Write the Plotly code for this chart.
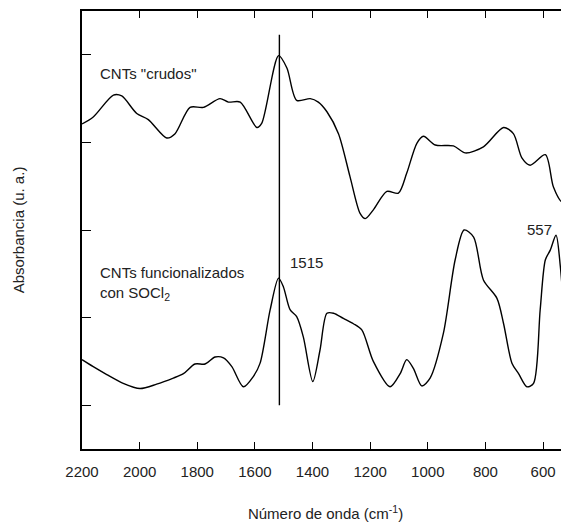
import plotly.graph_objects as go

# Top spectrum: CNTs "crudos"
crudos_x = [2200, 2161, 2091, 2062, 2010, 1970, 1906, 1877, 1825, 1779, 1721, 1692, 1651,
            1593, 1576, 1518, 1489, 1455, 1408, 1380, 1350, 1310, 1270, 1235, 1217, 1189,
            1142, 1102, 1073, 1038, 1015, 974, 911, 870, 807, 737, 703, 673, 645, 592,
            564, 535, 509]
crudos_y = [4.21, 4.29, 4.54, 4.53, 4.33, 4.26, 4.05, 4.10, 4.40, 4.40, 4.50, 4.46, 4.46,
            4.17, 4.22, 4.99, 4.85, 4.48, 4.50, 4.46, 4.35, 4.10, 3.61, 3.19, 3.13, 3.23,
            3.44, 3.42, 3.65, 3.99, 4.07, 3.97, 3.96, 3.88, 3.95, 4.17, 4.10, 3.82, 3.74, 3.86,
            3.49, 3.32, 3.33]

# Bottom spectrum: CNTs funcionalizados con SOCl2
func_x = [2200, 2161, 2114, 2057, 1999, 1941, 1883, 1848, 1808, 1773, 1738, 1709, 1680,
          1640, 1605, 1582, 1547, 1518, 1501, 1478, 1455, 1432, 1399, 1374, 1350, 1327,
          1293, 1258, 1229, 1189, 1131, 1096, 1073, 1050, 1021, 992, 946, 905, 874, 841,
          807, 760, 737, 708, 685, 656, 633, 610, 592, 575, 555, 540, 511]
func_y = [1.52, 1.44, 1.35, 1.25, 1.19, 1.24, 1.31, 1.36, 1.47, 1.47, 1.55, 1.54, 1.44,
          1.21, 1.33, 1.48, 2.09, 2.45, 2.35, 2.09, 2.01, 1.78, 1.27, 1.63, 2.05, 2.05,
          1.99, 1.93, 1.86, 1.50, 1.21, 1.36, 1.52, 1.42, 1.22, 1.31, 1.82, 2.66, 3.00, 2.92,
          2.43, 2.22, 1.93, 1.48, 1.36, 1.21, 1.25, 2.09, 2.66, 2.77, 2.94, 2.58, 1.25]

x_ticks = [2200, 2000, 1800, 1600, 1400, 1200, 1000, 800, 600]
y_ticks = [1, 2, 3, 4, 5]
marker_x = 1515
marker_y = [1.0, 5.23]

FONT = "Arial, Liberation Sans, sans-serif"
TXT = "#222222"
FS = 15

fig = go.Figure()
fig.add_trace(go.Scatter(x=crudos_x, y=crudos_y, mode="lines",
                         line=dict(color="black", width=1.4, shape="spline", smoothing=0.8)))
fig.add_trace(go.Scatter(x=func_x, y=func_y, mode="lines",
                         line=dict(color="black", width=1.4, shape="spline", smoothing=0.8)))
fig.add_trace(go.Scatter(x=[marker_x, marker_x], y=marker_y, mode="lines",
                         line=dict(color="black", width=1.4)))

fig.add_annotation(x=2146, y=4.79, text='CNTs "crudos"', showarrow=False,
                   xanchor="left", yanchor="middle", font=dict(size=FS, color=TXT, family=FONT))
fig.add_annotation(x=2146, y=2.64, text="CNTs funcionalizados<br>con SOCl<sub>2</sub>",
                   showarrow=False, align="left", xanchor="left", yanchor="top",
                   font=dict(size=FS, color=TXT, family=FONT))
fig.add_annotation(x=1485, y=2.63, text="1515", showarrow=False,
                   xanchor="left", yanchor="middle", font=dict(size=FS, color=TXT, family=FONT))
fig.add_annotation(x=664, y=3.01, text="557", showarrow=False,
                   xanchor="left", yanchor="middle", font=dict(size=FS, color=TXT, family=FONT))

fig.update_layout(
    width=561, height=517,
    margin=dict(l=74, r=0, t=3, b=76),
    paper_bgcolor="white", plot_bgcolor="white",
    showlegend=False,
    font=dict(family=FONT, size=FS, color=TXT),
)
fig.update_xaxes(range=[2200, 510], tickvals=x_ticks, ticks="inside", ticklen=7,
                 tickwidth=1.3, tickcolor="black", showline=True, linecolor="black",
                 linewidth=1.5, mirror="ticks", showgrid=False, zeroline=False,
                 ticklabelstandoff=8, tickfont=dict(size=FS, color=TXT, family=FONT),
                 title=dict(text="Número de onda (cm<sup>-1</sup>)", standoff=30,
                            font=dict(size=FS, color=TXT, family=FONT)))
fig.update_yaxes(range=[0.5, 5.5], tickvals=y_ticks, ticks="inside", ticklen=9,
                 tickwidth=1.3, tickcolor="black", showline=True, linecolor="black",
                 linewidth=1.5, showticklabels=False, showgrid=False, zeroline=False,
                 title=dict(text="Absorbancia (u. a.)", standoff=52,
                            font=dict(size=FS, color=TXT, family=FONT)))

fig.write_html("out.html")
